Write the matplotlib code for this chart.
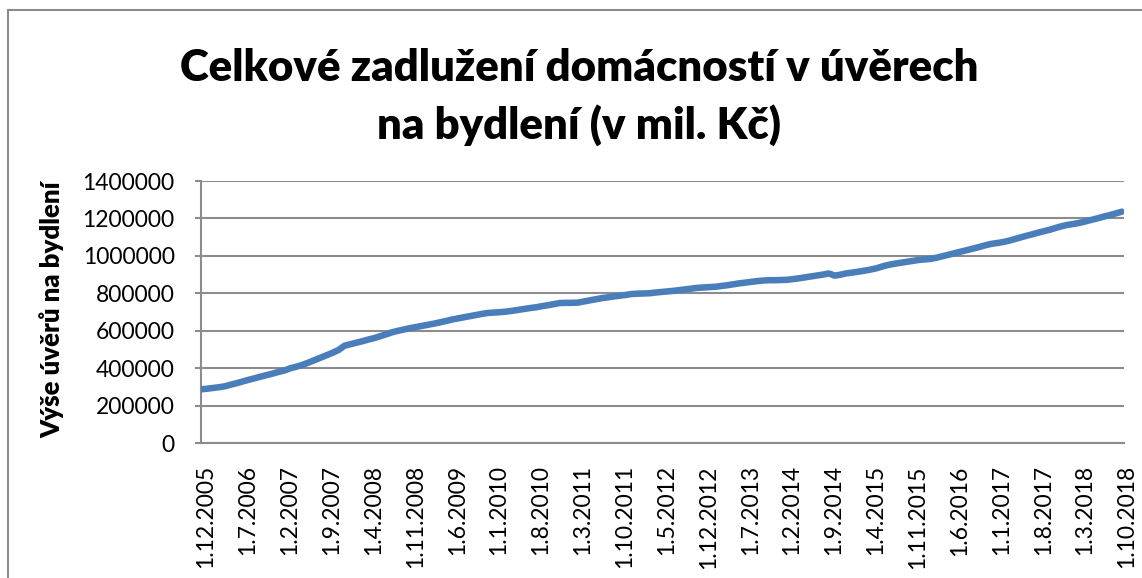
import matplotlib
matplotlib.use("Agg")
import matplotlib.pyplot as plt
from matplotlib.lines import Line2D
import matplotlib.transforms as mtransforms

# Monthly data, 1.12.2005 .. 1.10.2018 (values in mil. Kč, thousands)
values_k = [
    287, 290, 294, 298, 303, 312, 320, 329, 338, 346, 355, 363, 371,
    380, 388, 400, 408, 418, 430, 443, 456, 469, 482, 497, 520, 528,
    536, 544, 553, 561, 571, 581, 592, 600, 607, 614, 620, 626, 632,
    638, 645, 652, 660, 666, 672, 678, 684, 690, 695, 697, 699, 702,
    706, 711, 716, 721, 725, 731, 736, 742, 748, 749, 749, 750, 756,
    762, 768, 774, 778, 783, 787, 791, 796, 798, 799, 800, 804, 807,
    810, 813, 817, 821, 825, 829, 831, 833, 835, 839, 843, 848, 853,
    857, 861, 865, 868, 870, 870, 871, 872, 876, 880, 885, 890, 895,
    900, 906, 894, 900, 907, 911, 916, 921, 927, 934, 944, 952, 958,
    963, 968, 973, 978, 981, 984, 990, 998, 1006, 1014, 1022, 1030, 1038,
    1046, 1055, 1063, 1068, 1073, 1080, 1089, 1098, 1107, 1115, 1124, 1132, 1140,
    1150, 1159, 1166, 1171, 1177, 1185, 1193, 1201, 1210, 1218, 1227, 1236,
]
values = [v * 1000 for v in values_k]

start_year, start_month = 2005, 12
dates = []
y, m = start_year, start_month
for _ in values:
    dates.append(f"1.{m}.{y}")
    m += 1
    if m > 12:
        m = 1
        y += 1

tick_step = 7
y_ticks = [0, 200000, 400000, 600000, 800000, 1000000, 1200000, 1400000]

title = "Celkové zadlužení domácností v úvěrech\nna bydlení (v mil. Kč)"
ylabel = "Výše úvěrů na bydlení"

plt.rcParams['font.family'] = ['Lato', 'DejaVu Sans']

W, H = 1142, 578
fig = plt.figure(figsize=(W / 100, H / 100), dpi=100)
ax = fig.add_axes([201 / W, 1 - 443 / H, (1124 - 201) / W, (443 - 181) / H])

x = list(range(len(values)))
ax.plot(x, values, color="#4A7EBB", linewidth=4.7, solid_capstyle="round",
        solid_joinstyle="round", zorder=3)

ax.set_xlim(0, len(values) - 1 + 0.35)
ax.set_ylim(0, 1400000)
ax.set_yticks(y_ticks)
ax.set_yticklabels([str(v) for v in y_ticks])
ax.yaxis.grid(True, color="#8C8C8C", linewidth=1.5)
ax.set_axisbelow(True)

tick_pos = list(range(0, len(values), tick_step))
ax.set_xticks(tick_pos)
ax.set_xticklabels([dates[i] for i in tick_pos], rotation=90)

for s in ["top", "right"]:
    ax.spines[s].set_visible(False)
for s in ["left", "bottom"]:
    ax.spines[s].set_color("#8C8C8C")
    ax.spines[s].set_linewidth(1.5)

ax.tick_params(axis="y", length=4, width=1.5, color="#8C8C8C", labelsize=16.5, pad=15)
ax.tick_params(axis="x", length=0, labelsize=16.5, pad=16)

offset = mtransforms.ScaledTranslation(5 / 100, 0, fig.dpi_scale_trans)
for lab in ax.get_xticklabels():
    lab.set_transform(lab.get_transform() + offset)

fig.text(52 / W, 1 - 310 / H, ylabel, rotation=90, fontsize=18.5, fontweight="heavy",
         ha="center", va="center")
fig.text(579 / W, 1 - 97 / H, title, fontsize=31.5, fontweight="heavy",
         ha="center", va="center", linespacing=1.46)

# outer chart-area border (top and left visible)
fig.add_artist(Line2D([8 / W, 1.0], [1 - 10 / H, 1 - 10 / H], transform=fig.transFigure,
                      color="#8C8C8C", linewidth=1.5))
fig.add_artist(Line2D([8 / W, 8 / W], [0.0, 1 - 10 / H], transform=fig.transFigure,
                      color="#8C8C8C", linewidth=1.5))

fig.savefig("out.png", dpi=100, facecolor="white")
